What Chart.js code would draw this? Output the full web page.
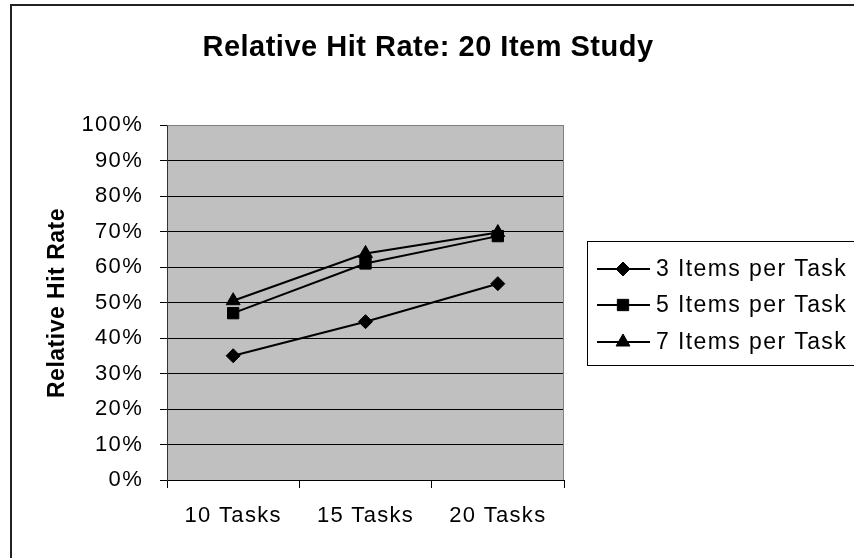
<!DOCTYPE html>
<html>
<head>
<meta charset="utf-8">
<script src="https://cdn.jsdelivr.net/npm/chart.js@4.4.1/dist/chart.umd.min.js"></script>
<style>
  html, body { margin: 0; padding: 0; background: #fff; }
  canvas { display: block; }
</style>
</head>
<body>
<canvas id="c" width="854" height="558"></canvas>
<script>
// Categories and series (relative hit rate, percent)
const categories = ['10 Tasks', '15 Tasks', '20 Tasks'];
const seriesNames = ['3 Items per Task', '5 Items per Task', '7 Items per Task'];
const items3 = [35.0, 44.6, 55.3];
const items5 = [47.0, 61.0, 68.7];
const items7 = [50.5, 63.8, 69.7];
const yTickValues = [0, 10, 20, 30, 40, 50, 60, 70, 80, 90, 100];

const chartTitle = 'Relative Hit Rate: 20 Item Study';
const yAxisTitle = 'Relative Hit Rate';

const FONT = "'Liberation Sans', Arial, sans-serif";
const markerStyles = ['rectRot', 'rect', 'triangle'];
const markerRadii = [7, 8, 8];

function drawMarker(ctx, style, r, x, y) {
  ctx.save();
  ctx.fillStyle = '#000';
  ctx.strokeStyle = '#000';
  ctx.lineWidth = 1;
  if (Chart.helpers && Chart.helpers.drawPoint) {
    Chart.helpers.drawPoint(ctx, { pointStyle: style, radius: r, rotation: 0, borderWidth: 1 }, x, y);
  }
  ctx.restore();
}

// Frame, plot background, titles and boxed legend
const decor = {
  id: 'decor',
  beforeDraw(chart) {
    const { ctx, chartArea: a } = chart;
    ctx.save();
    ctx.fillStyle = '#fff';
    ctx.fillRect(0, 0, chart.width, chart.height);
    ctx.fillStyle = '#c0c0c0';
    ctx.fillRect(a.left, a.top, a.right - a.left, a.bottom - a.top);
    ctx.restore();
    ctx.letterSpacing = '1.3px';
  },
  beforeDatasetsDraw(chart) {
    const { ctx, chartArea: a } = chart;
    ctx.save();
    ctx.strokeStyle = '#808080';
    ctx.lineWidth = 1;
    ctx.beginPath();
    ctx.moveTo(Math.round(a.left) + 0.5, Math.round(a.top) + 0.5);
    ctx.lineTo(Math.round(a.right) - 0.5, Math.round(a.top) + 0.5);
    ctx.lineTo(Math.round(a.right) - 0.5, Math.round(a.bottom));
    ctx.stroke();
    ctx.restore();
  },
  afterDraw(chart) {
    const { ctx } = chart;
    ctx.save();
    // outer frame
    ctx.strokeStyle = '#222';
    ctx.lineWidth = 2;
    ctx.strokeRect(11, 5, 900, 600);

    // chart title
    ctx.fillStyle = '#000';
    ctx.letterSpacing = '0.5px';
    ctx.font = 'bold 29px ' + FONT;
    ctx.textAlign = 'center';
    ctx.textBaseline = 'middle';
    ctx.fillText(chartTitle, 428, 48);

    // vertical axis title
    ctx.save();
    ctx.translate(58, 303);
    ctx.rotate(-Math.PI / 2);
    ctx.letterSpacing = '0.5px';
    ctx.font = 'bold 23px ' + FONT;
    ctx.fillText(yAxisTitle, 0, 0);
    ctx.restore();

    // legend box
    ctx.strokeStyle = '#000';
    ctx.lineWidth = 1;
    ctx.strokeRect(587.5, 241.5, 400, 124);
    const rows = [269, 305, 342];
    ctx.letterSpacing = '1.4px';
    ctx.font = '23px ' + FONT;
    ctx.textAlign = 'left';
    chart.data.datasets.forEach((ds, i) => {
      const y = rows[i];
      ctx.strokeStyle = '#000';
      ctx.lineWidth = 2;
      ctx.beginPath();
      ctx.moveTo(597, y);
      ctx.lineTo(650, y);
      ctx.stroke();
      drawMarker(ctx, ds.pointStyle, ds.pointRadius, 623, y);
      ctx.fillStyle = '#000';
      ctx.fillText(ds.label, 656, y + 1);
    });
    ctx.restore();
  }
};

const makeSet = (label, data, i) => ({
  label,
  data,
  borderColor: '#000',
  backgroundColor: '#000',
  borderWidth: 2,
  pointStyle: markerStyles[i],
  pointRadius: markerRadii[i],
  pointHoverRadius: markerRadii[i],
  pointBorderWidth: 1,
  pointBackgroundColor: '#000',
  pointBorderColor: '#000',
  tension: 0,
  clip: false
});

new Chart(document.getElementById('c'), {
  type: 'line',
  data: {
    labels: categories,
    datasets: [
      makeSet(seriesNames[0], items3, 0),
      makeSet(seriesNames[1], items5, 1),
      makeSet(seriesNames[2], items7, 2)
    ]
  },
  options: {
    responsive: false,
    animation: false,
    events: [],
    layout: { padding: { left: 0, top: 125, right: 290, bottom: 0 } },
    plugins: {
      legend: { display: false },
      title: { display: false },
      tooltip: { enabled: false }
    },
    scales: {
      x: {
        offset: true,
        afterFit(s) { s.height = 78; },
        grid: {
          offset: true,
          drawOnChartArea: false,
          drawTicks: true,
          tickLength: 8,
          tickColor: '#000'
        },
        border: { color: '#000', width: 1 },
        ticks: {
          color: '#000',
          font: { family: FONT, size: 22 },
          padding: 15,
          maxRotation: 0,
          autoSkip: false
        }
      },
      y: {
        min: 0,
        max: 100,
        afterFit(s) { s.width = 167; },
        afterBuildTicks(s) { s.ticks = yTickValues.map(v => ({ value: v })); },
        grid: {
          color: c => (c.tick && c.tick.value === 100 ? '#808080' : '#000'),
          tickColor: '#000',
          tickLength: 7,
          lineWidth: 1
        },
        border: { color: '#333', width: 1 },
        ticks: {
          color: '#000',
          font: { family: FONT, size: 22 },
          padding: 17,
          callback: v => v + '%'
        }
      }
    }
  },
  plugins: [decor]
});
</script>
</body>
</html>
